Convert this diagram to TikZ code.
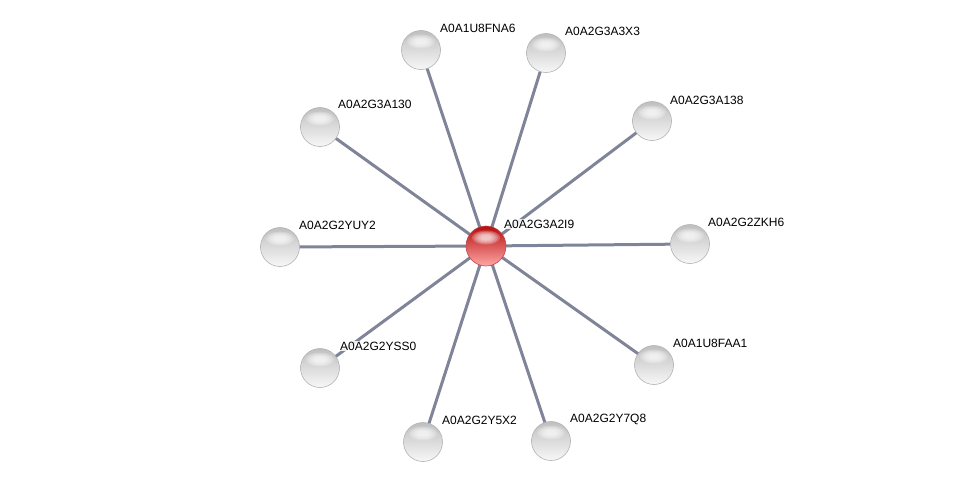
\documentclass[tikz,border=0pt]{standalone}
\usepackage{fontspec}
\setmainfont{Liberation Sans}
\definecolor{edgec}{RGB}{128,132,152}
\begin{document}
\begin{tikzpicture}[x=1pt,y=-1pt,
  edge/.style={draw=edgec,line width=3pt},
  hl/.style={path picture={
    \foreach \s in {1.0,0.85,0.7,0.55,0.4}{
    \fill[white,opacity=0.22] ([yshift=8.5pt]path picture bounding box.center) ellipse [x radius={14pt*\s}, y radius={7pt*\s}];}}},
  outer/.style={circle,minimum size=39pt,inner sep=0pt,draw=gray!60,line width=0.6pt,
     top color=gray!50,bottom color=gray!6,hl},
  center/.style={circle,minimum size=40pt,inner sep=0pt,draw=red!60!black!70,line width=0.6pt,
     top color=red!70!black!95,bottom color=red!35!white,hl},
  lab/.style={anchor=west,font=\fontsize{12}{13}\selectfont,inner sep=1pt,fill=white,fill opacity=0.85,text opacity=1}]
\useasboundingbox (0,0) rectangle (976,487);
\coordinate (c0) at (486,246);
\coordinate (c1) at (421,50);
\coordinate (c2) at (546,53);
\coordinate (c3) at (652,121);
\coordinate (c4) at (690,244);
\coordinate (c5) at (654,365);
\coordinate (c6) at (551,441);
\coordinate (c7) at (423,442);
\coordinate (c8) at (320,368);
\coordinate (c9) at (280,247);
\coordinate (c10) at (320,127);
\foreach \i in {1,...,10} {\draw[edge] (c0) -- (c\i);}
\node[outer] (n1) at (c1) {};
\node[outer] (n2) at (c2) {};
\node[outer] (n3) at (c3) {};
\node[outer] (n4) at (c4) {};
\node[outer] (n5) at (c5) {};
\node[outer] (n6) at (c6) {};
\node[outer] (n7) at (c7) {};
\node[outer] (n8) at (c8) {};
\node[outer] (n9) at (c9) {};
\node[outer] (n10) at (c10) {};
\node[center] (n0) at (c0) {};
\node[lab] (l0) at (503,224) {A0A2G3A2I9};
\node[lab] (l1) at (439,28) {A0A1U8FNA6};
\node[lab] (l2) at (564,31) {A0A2G3A3X3};
\node[lab] (l3) at (669,100) {A0A2G3A138};
\node[lab] (l4) at (707,222) {A0A2G2ZKH6};
\node[lab] (l5) at (672,343) {A0A1U8FAA1};
\node[lab] (l6) at (569,419) {A0A2G2Y7Q8};
\node[lab] (l7) at (441,420) {A0A2G2Y5X2};
\node[lab] (l8) at (339,346) {A0A2G2YSS0};
\node[lab] (l9) at (298,225) {A0A2G2YUY2};
\node[lab] (l10) at (337,104) {A0A2G3A130};
\end{tikzpicture}
\end{document}
